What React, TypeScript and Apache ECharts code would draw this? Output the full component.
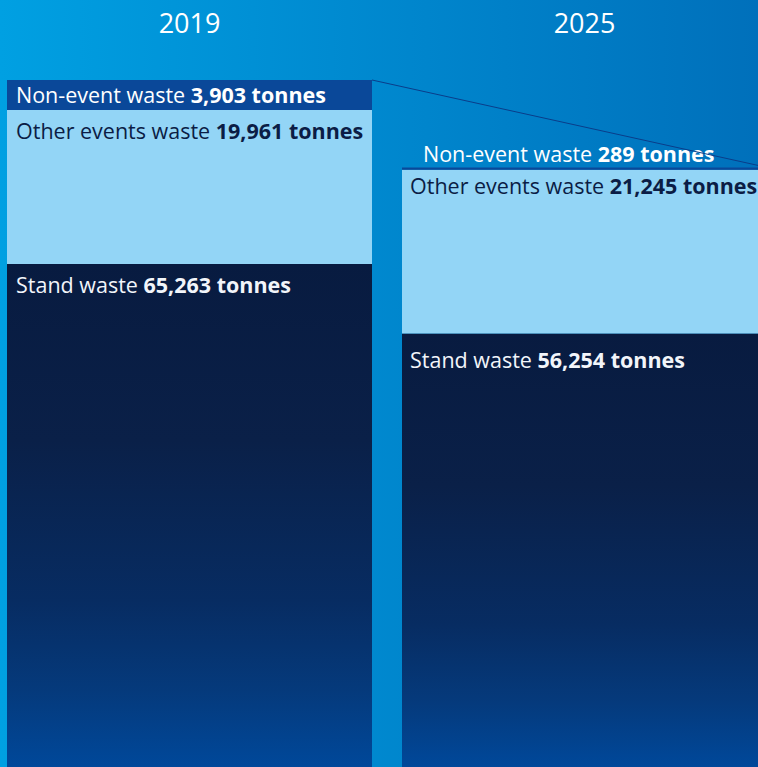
import React, { useEffect, useRef } from "react";
import * as echarts from "echarts";

const years = ["2019", "2025"];
const standWaste = [65263, 56254];
const otherEventsWaste = [19961, 21245];
const nonEventWaste = [3903, 289];

const BAR_WIDTH = 365;

export default function App() {
  const ref = useRef<HTMLDivElement>(null);

  useEffect(() => {
    const chart = echarts.init(ref.current!, null, { renderer: "svg" });
    const totals = years.map((_, i) => standWaste[i] + otherEventsWaste[i] + nonEventWaste[i]);
    const fmt = (v: number) => v.toLocaleString("en-US");
    const FONT = "'Open Sans', 'Noto Sans', sans-serif";

    const richFor = (color: string) => ({
      n: { fontFamily: FONT, fontSize: 21.5, color, fontWeight: 400 },
      b: { fontFamily: FONT, fontSize: 21.5, color, fontWeight: 700 },
    });

    const makeLabel = (name: string, color: string) => ({
      show: true,
      align: "left",
      verticalAlign: "middle",
      formatter: (p: any) => `{n|${name} }{b|${fmt(p.value)} tonnes}`,
      rich: richFor(color),
    });

    const itemsWithPos = (values: number[], positions: number[][]) =>
      values.map((v, i) => ({ value: v, label: { position: positions[i] } }));

    chart.setOption({
      animation: false,
      backgroundColor: "transparent",
      grid: { left: 0, right: 0, top: 80, bottom: 0, containLabel: false },
      xAxis: {
        type: "category",
        data: years,
        position: "top",
        axisLine: { show: false },
        axisTick: { show: false },
        axisLabel: {
          color: "#ffffff",
          fontFamily: FONT,
          fontSize: 27,
          margin: 44,
        },
      },
      yAxis: { type: "value", min: 0, max: totals[0], show: false },
      series: [
        {
          name: "Stand waste",
          type: "bar",
          stack: "total",
          barWidth: BAR_WIDTH,
          data: itemsWithPos(standWaste, [[9, 21], [8, 26]]),
          itemStyle: {
            color: new echarts.graphic.LinearGradient(0, 0, 0, 1, [
              { offset: 0, color: "#081b40" },
              { offset: 0.35, color: "#0a2048" },
              { offset: 0.67, color: "#072c62" },
              { offset: 0.85, color: "#053a7c" },
              { offset: 1, color: "#00489a" },
            ]),
          },
          label: makeLabel("Stand waste", "#f2f5fa"),
        },
        {
          name: "Other events waste",
          type: "bar",
          stack: "total",
          barWidth: BAR_WIDTH,
          data: itemsWithPos(otherEventsWaste, [[9, 20], [8, 16]]),
          itemStyle: { color: "#93d5f6" },
          label: makeLabel("Other events waste", "#0b1d45"),
        },
        {
          name: "Non-event waste",
          type: "bar",
          stack: "total",
          barWidth: BAR_WIDTH,
          data: itemsWithPos(nonEventWaste, [[9, 14], [21, -14]]),
          itemStyle: { color: "#0a4899" },
          label: makeLabel("Non-event waste", "#ffffff"),
        },
      ],
    });

    const p0 = chart.convertToPixel({ xAxisIndex: 0, yAxisIndex: 0 }, [0, totals[0]]) as number[];
    const p1 = chart.convertToPixel({ xAxisIndex: 0, yAxisIndex: 0 }, [1, totals[1]]) as number[];
    chart.setOption({
      graphic: [
        {
          type: "line",
          silent: true,
          z: 10,
          shape: {
            x1: p0[0] + BAR_WIDTH / 2,
            y1: p0[1],
            x2: p1[0] + BAR_WIDTH / 2,
            y2: p1[1],
          },
          style: { stroke: "#0a3d8a", lineWidth: 1 },
        },
      ],
    });

    return () => chart.dispose();
  }, []);

  return (
    <div
      style={{
        position: "fixed",
        left: 0,
        top: 0,
        width: 758,
        height: 767,
        overflow: "hidden",
        background: "linear-gradient(to right, #00a0e2, #0070bb)",
      }}
    >
      <div ref={ref} style={{ position: "absolute", left: -8, top: 0, width: 790, height: 767 }} />
    </div>
  );
}
